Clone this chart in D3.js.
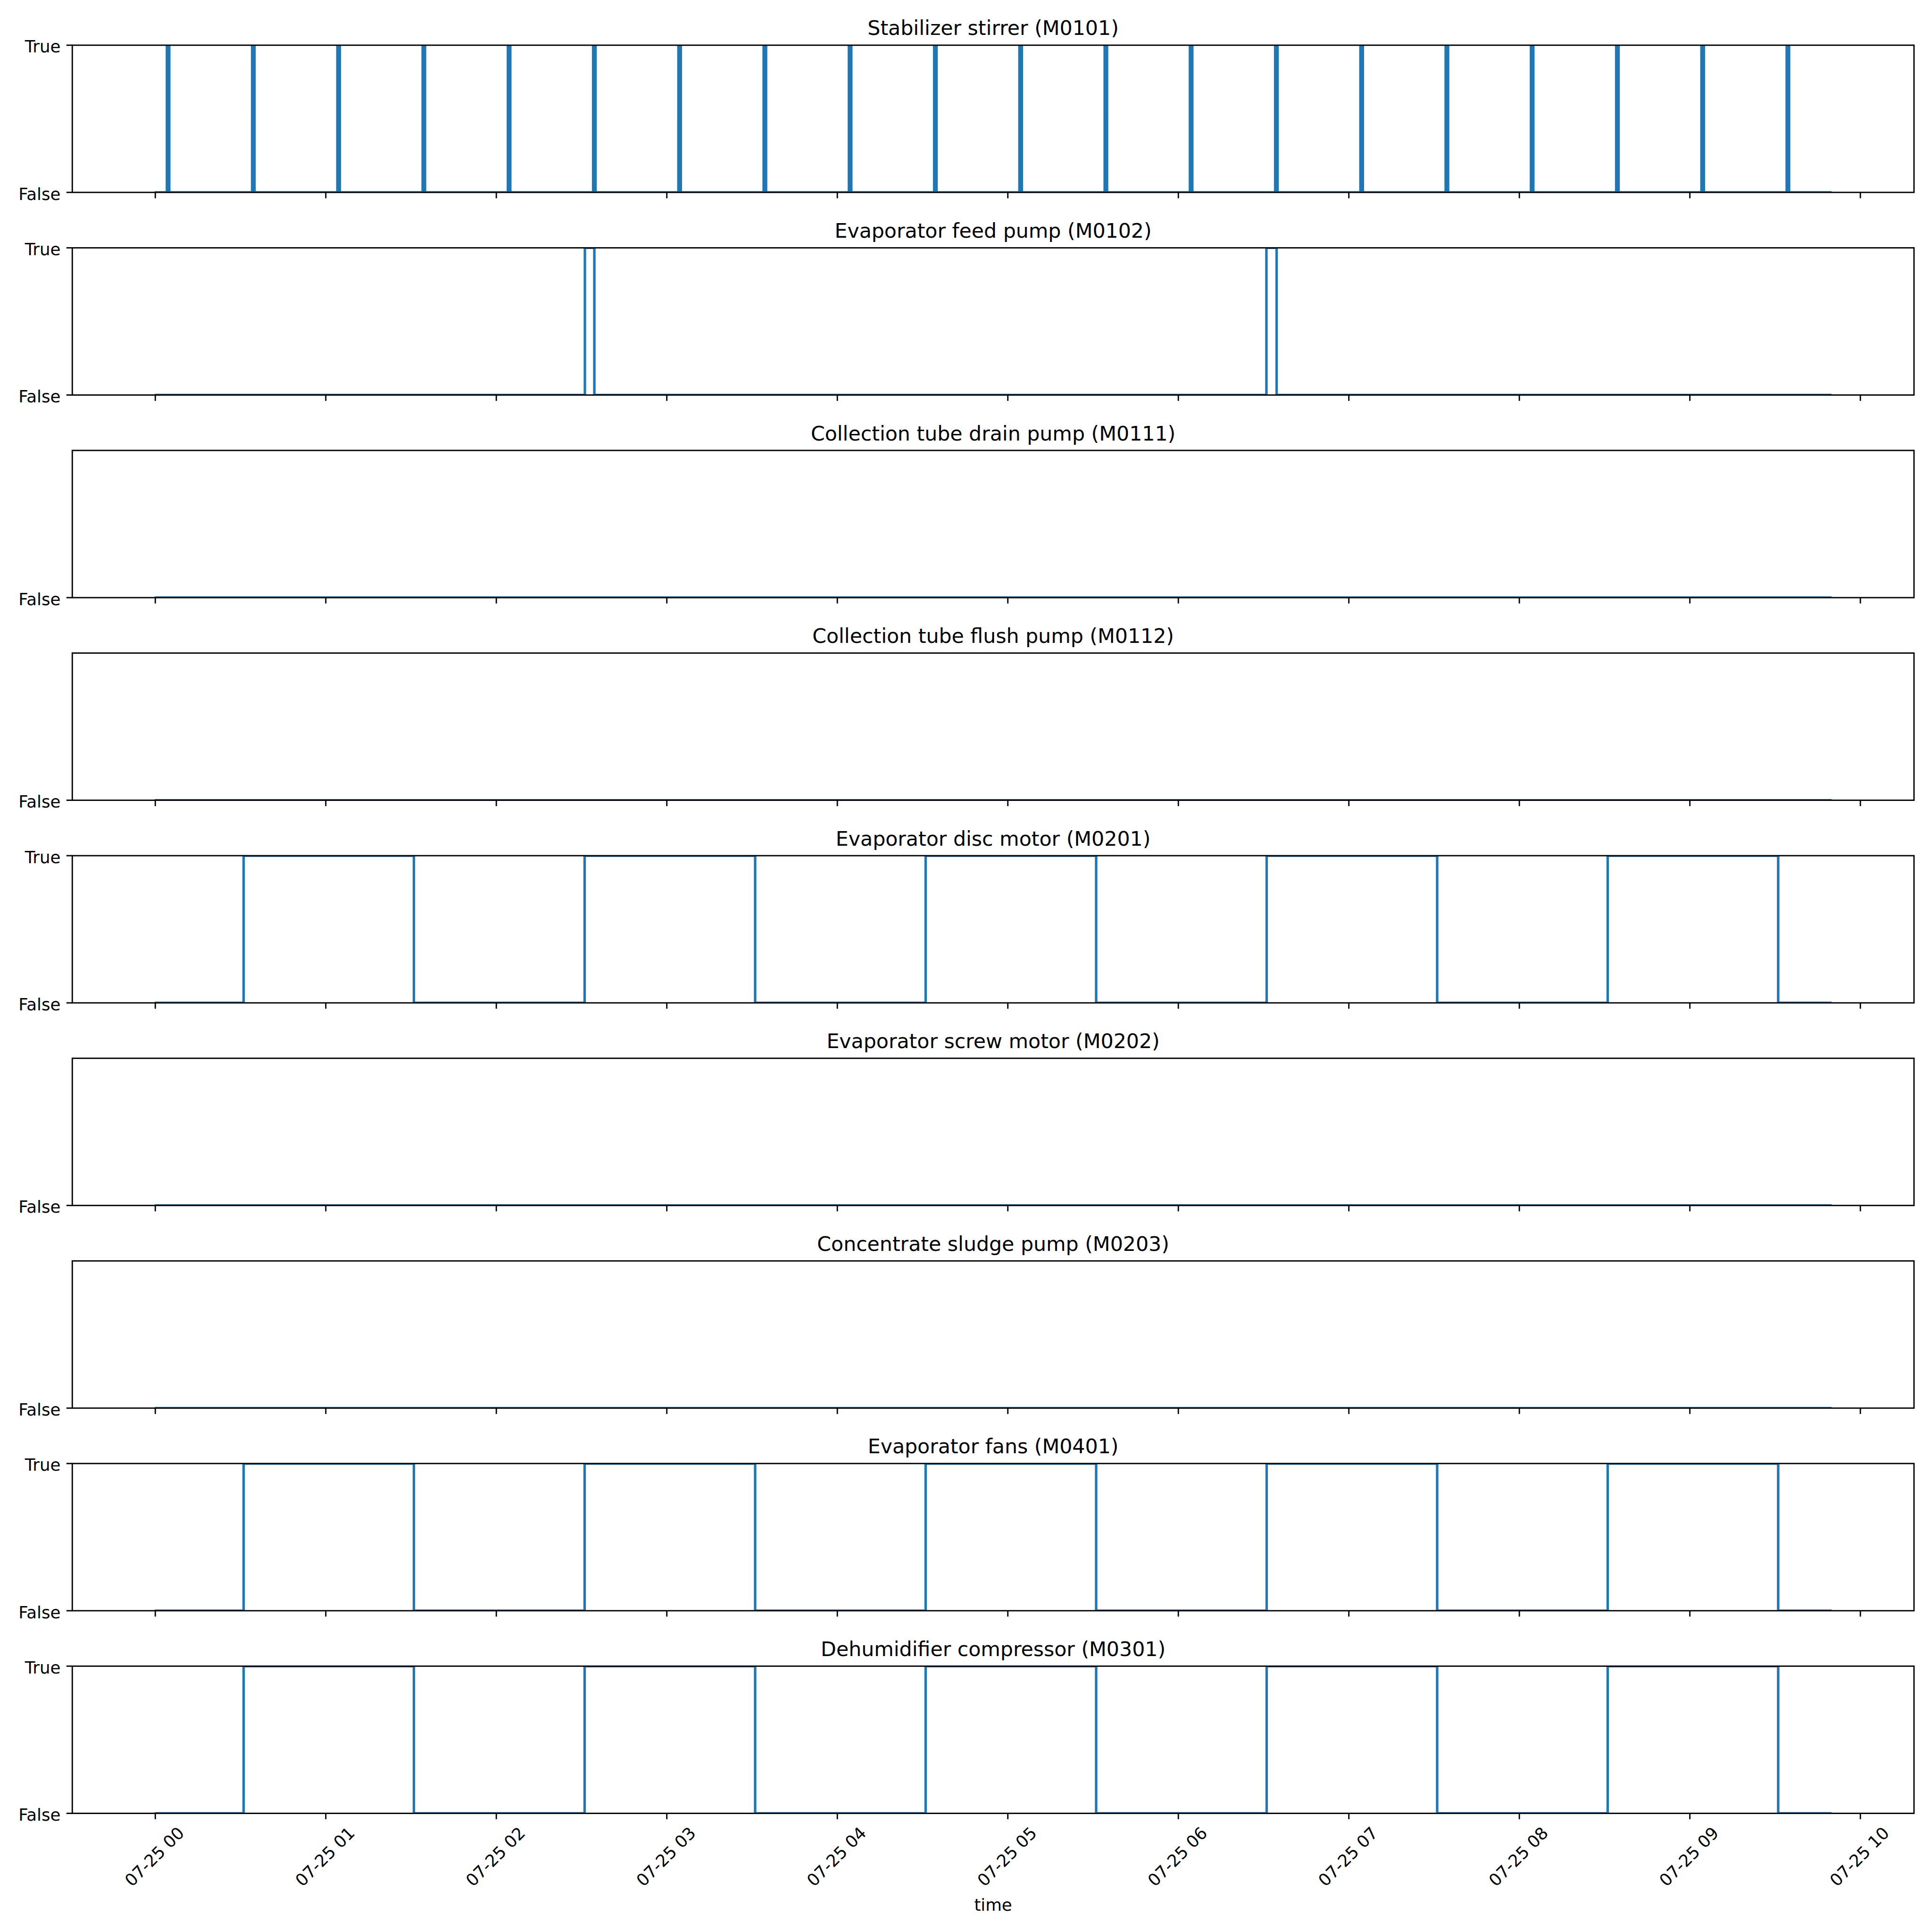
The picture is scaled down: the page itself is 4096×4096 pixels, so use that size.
<!DOCTYPE html>
<html>
<head>
<meta charset="utf-8">
<script src="https://cdn.jsdelivr.net/npm/d3@7"></script>
<style>
html,body{margin:0;padding:0;background:#fff;}
svg{display:block;}
text{font-family:"DejaVu Sans",sans-serif;fill:#000;}
</style>
</head>
<body>
<svg id="chart" width="4096" height="4096"></svg>
<script>
// ---------------- data ----------------
const day = "2024-07-25";
const dataStart = "00:00:15";
const dataEnd = "09:49:25";

const titles = [
  "Stabilizer stirrer (M0101)",
  "Evaporator feed pump (M0102)",
  "Collection tube drain pump (M0111)",
  "Collection tube flush pump (M0112)",
  "Evaporator disc motor (M0201)",
  "Evaporator screw motor (M0202)",
  "Concentrate sludge pump (M0203)",
  "Evaporator fans (M0401)",
  "Dehumidifier compressor (M0301)"
];

// ON intervals [switch on, switch off] for each device
const m0101 = [["00:04:05","00:04:55"],["00:34:05","00:34:55"],["01:04:05","01:04:55"],["01:34:05","01:34:55"],
  ["02:04:05","02:04:55"],["02:34:05","02:34:55"],["03:04:05","03:04:55"],["03:34:05","03:34:55"],
  ["04:04:05","04:04:55"],["04:34:05","04:34:55"],["05:04:05","05:04:55"],["05:34:05","05:34:55"],
  ["06:04:05","06:04:55"],["06:34:05","06:34:55"],["07:04:05","07:04:55"],["07:34:05","07:34:55"],
  ["08:04:05","08:04:55"],["08:34:05","08:34:55"],["09:04:05","09:04:55"],["09:34:05","09:34:55"]];
const m0102 = [["02:31:10","02:34:30"],["06:31:00","06:34:35"]];
const m0111 = [];
const m0112 = [];
const m0201 = [["00:31:05","01:31:00"],["02:31:05","03:31:05"],["04:31:05","05:31:05"],["06:31:05","07:31:05"],["08:31:05","09:31:05"]];
const m0202 = [];
const m0203 = [];
const m0401 = [["00:31:05","01:31:00"],["02:31:05","03:31:05"],["04:31:05","05:31:05"],["06:31:05","07:31:05"],["08:31:05","09:31:05"]];
const m0301 = [["00:31:05","01:31:00"],["02:31:05","03:31:05"],["04:31:05","05:31:05"],["06:31:05","07:31:05"],["08:31:05","09:31:05"]];

const seriesList = [m0101, m0102, m0111, m0112, m0201, m0202, m0203, m0401, m0301];
const yTickLabels = ["False", "True"];
const xLabel = "time";

// ---------------- layout (reference px, scaled at the end) ----------------
const S = 4096 / 4800;
const L = 179.6, R = 4755.3;
const top0 = 112.3, step = 503.4, ph = 365.7;
const PT = 300 / 72;              // px per pt at 300 dpi
const fsTick = 10 * PT, fsTitle = 12 * PT;
const tickLen = 3.5 * PT, tickPad = 3.5 * PT;
const spineW = 0.8 * PT, lineW = 1.5 * PT;
const blue = "#1f77b4";

const parse = d3.timeParse("%Y-%m-%d %H:%M:%S");
const T = s => parse(day + " " + s);

const t0 = T(dataStart), t1 = T(dataEnd);
const pad = (t1 - t0) * 0.05;
const x = d3.scaleTime()
  .domain([new Date(+t0 - pad), new Date(+t1 + pad)])
  .range([L, R]);
const hourTicks = d3.timeHour.range(T("00:00:00"), new Date(+x.domain()[1] + 1));
const fmt = d3.timeFormat("%m-%d %H");

const svg = d3.select("#chart");
const root = svg.append("g").attr("transform", `scale(${S})`);

seriesList.forEach((iv, i) => {
  const top = top0 + i * step, bot = top + ph;
  const y = d3.scaleLinear().domain([0, 1]).range([bot, top]);
  const g = root.append("g");

  const clipId = "clip" + i;
  g.append("clipPath").attr("id", clipId)
    .append("rect").attr("x", L).attr("y", top).attr("width", R - L).attr("height", ph);

  // points
  const pts = [[t0, 0]];
  iv.forEach(([on, off]) => { pts.push([T(on), 1]); pts.push([T(off), 0]); });
  pts.push([t1, 0]);

  const line = d3.line().x(d => x(d[0])).y(d => y(d[1])).curve(d3.curveStepAfter);
  g.append("path")
    .attr("d", line(pts))
    .attr("fill", "none")
    .attr("stroke", blue)
    .attr("stroke-width", lineW)
    .attr("stroke-linecap", "square")
    .attr("stroke-linejoin", "round")
    .attr("clip-path", `url(#${clipId})`);

  // spines
  g.append("rect").attr("x", L).attr("y", top).attr("width", R - L).attr("height", ph)
    .attr("fill", "none").attr("stroke", "#000").attr("stroke-width", spineW)
    .attr("stroke-linejoin", "miter");

  // y ticks
  const yt = iv.length ? [0, 1] : [0];
  yt.forEach(v => {
    g.append("line").attr("x1", L - tickLen).attr("x2", L).attr("y1", y(v)).attr("y2", y(v))
      .attr("stroke", "#000").attr("stroke-width", spineW);
    g.append("text").attr("x", L - tickLen - tickPad).attr("y", y(v) + 0.44 * fsTick)
      .attr("text-anchor", "end").attr("font-size", fsTick).text(yTickLabels[v]);
  });

  // x ticks
  hourTicks.forEach(t => {
    g.append("line").attr("x1", x(t)).attr("x2", x(t)).attr("y1", bot).attr("y2", bot + tickLen)
      .attr("stroke", "#000").attr("stroke-width", spineW);
  });

  // title
  g.append("text").attr("x", (L + R) / 2).attr("y", top - 6 * PT)
    .attr("text-anchor", "middle").attr("font-size", fsTitle).text(titles[i]);

  // bottom panel tick labels
  if (i === seriesList.length - 1) {
    const yTop = bot + tickLen + tickPad;
    hourTicks.forEach(t => {
      const tx = g.append("text").attr("font-size", fsTick).attr("text-anchor", "middle").text(fmt(t));
      const w = tx.node().getComputedTextLength();
      const H = (w + 0.968 * fsTick) / Math.SQRT2;
      const cy = yTop + H / 2;
      tx.attr("transform", `translate(${x(t)},${cy}) rotate(-45)`).attr("y", 0.276 * fsTick);
    });
    g.append("text").attr("x", (L + R) / 2).attr("y", 4746.7)
      .attr("text-anchor", "middle").attr("font-size", fsTick).text(xLabel);
  }
});
</script>
</body>
</html>
